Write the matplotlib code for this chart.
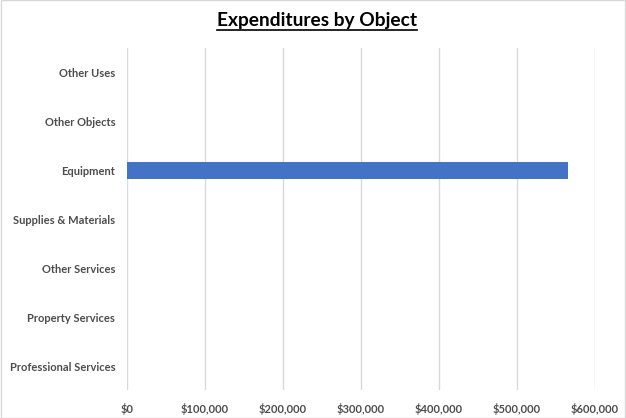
import matplotlib
matplotlib.use("Agg")
import matplotlib.pyplot as plt
from matplotlib.ticker import FuncFormatter
from matplotlib.patches import Rectangle

# - DATA - #
categories = ["Professional Services", "Property Services", "Other Services",
              "Supplies & Materials", "Equipment", "Other Objects", "Other Uses"]
amounts = [0, 0, 0, 0, 565000, 0, 0]
xticks = [0, 100000, 200000, 300000, 400000, 500000, 600000]

plt.rcParams['font.family'] = ['Lato', 'DejaVu Sans']

fig = plt.figure(figsize=(6.26, 4.18), dpi=100)
ax = fig.add_axes([0.2029, 0.0658, 0.7476, 0.8182])

ax.barh(categories, amounts, height=0.36, color="#4472C4", zorder=3)
ax.set_xlim(0, 600000)
ax.set_ylim(-0.5, len(categories) - 0.5)
ax.set_xticks(xticks)
ax.xaxis.set_major_formatter(FuncFormatter(lambda v, p: "${:,.0f}".format(v)))
ax.grid(axis="x", color="#D9D9D9", linewidth=1, zorder=0)
for s in ax.spines.values():
    s.set_visible(False)
ax.tick_params(length=0, colors="#4D4D4D", labelsize=8)
ax.tick_params(axis="x", pad=9)
ax.tick_params(axis="y", pad=8.5)
for lbl in ax.get_xticklabels() + ax.get_yticklabels():
    lbl.set_fontweight("bold")

# title with underline
t = fig.text(0.506, 0.952, "Expenditures by Object", ha="center", va="center",
             fontsize=13.8, fontweight="bold", color="black")
fig.canvas.draw()
bb = t.get_window_extent().transformed(fig.transFigure.inverted())
fig.add_artist(plt.Line2D([bb.x0, bb.x1], [bb.y0 - 0.004, bb.y0 - 0.004],
                          transform=fig.transFigure, color="black", linewidth=1.2))

# chart border
fig.add_artist(Rectangle((0.001, 0.001), 0.998, 0.998, transform=fig.transFigure,
                         fill=False, edgecolor="#D9D9D9", linewidth=1))

plt.savefig("out.png", dpi=100)
